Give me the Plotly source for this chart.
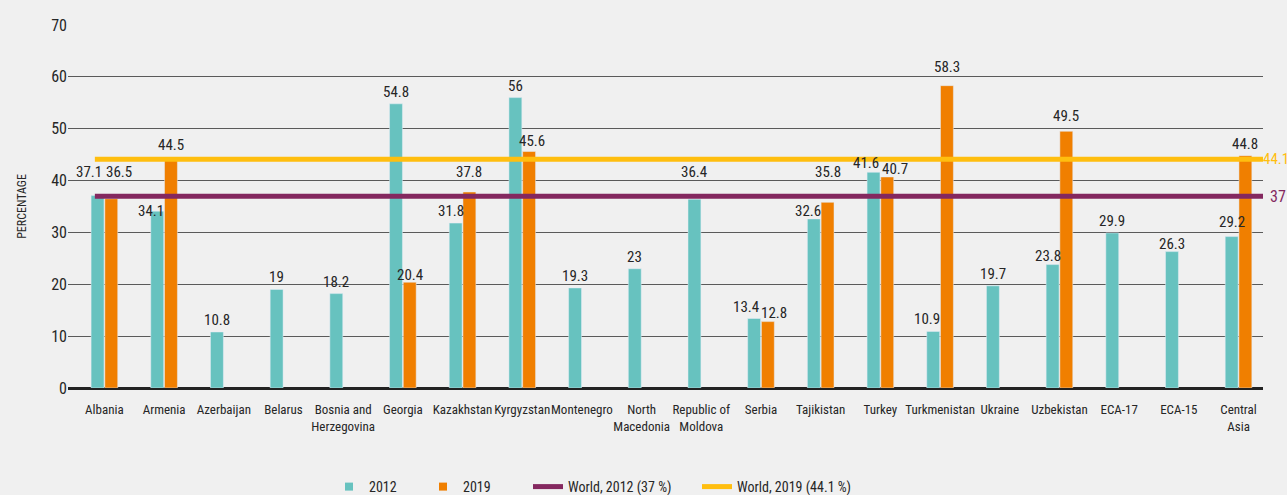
import plotly.graph_objects as go

# Dados
countries = ["Albania", "Armenia", "Azerbaijan", "Belarus", "Bosnia and<br>Herzegovina",
             "Georgia", "Kazakhstan", "Kyrgyzstan", "Montenegro", "North<br>Macedonia",
             "Republic of<br>Moldova", "Serbia", "Tajikistan", "Turkey", "Turkmenistan",
             "Ukraine", "Uzbekistan", "ECA-17", "ECA-15", "Central<br>Asia"]
v2012 = [37.1, 34.1, 10.8, 19, 18.2, 54.8, 31.8, 56, 19.3, 23,
         36.4, 13.4, 32.6, 41.6, 10.9, 19.7, 23.8, 29.9, 26.3, 29.2]
v2019 = [36.5, 44.5, None, None, None, 20.4, 37.8, 45.6, None, None,
         None, 12.8, 35.8, 40.7, 58.3, None, 49.5, None, None, 44.8]
world_2012 = 37
world_2019 = 44.1

FONT = "Roboto Condensed, Roboto, sans-serif"
TXT = "#262626"
TEAL = "#67C2BF"
ORANGE = "#F07F00"
PURPLE = "#84285F"
YELLOW = "#FFBE0F"

BARGAP = 0.54
GROUPGAP = 0.06
half = (1 - BARGAP) / 4  # distancia do centro do grupo ao centro de cada barra

# ajustes finos das etiquetas (px): {indice: (xshift, yshift)}
nudge_2012 = {0: (-9, 13), 1: (-6, -11), 6: (-5, 1), 10: (0, 16), 11: (-8, 1),
              12: (-6, -3), 13: (-8, -2), 14: (-6, 1), 16: (-5, -2), 18: (0, -3), 19: (0, 4)}
nudge_2019 = {0: (8, 16), 5: (0, -4), 6: (0, 9), 7: (3, 0), 11: (6, -2), 12: (0, 19),
              13: (8, -3), 14: (0, 8), 16: (0, 4)}

pos = list(range(len(countries)))

fig = go.Figure()

fig.add_trace(go.Bar(x=pos, y=v2012, name="2012", marker_color=TEAL, showlegend=False))
fig.add_trace(go.Bar(x=pos, y=v2019, name="2019", marker_color=ORANGE, showlegend=False))

# etiquetas de valor
for vals, sign, nudge in [(v2012, -1, nudge_2012), (v2019, 1, nudge_2019)]:
    for i, v in enumerate(vals):
        if v is None:
            continue
        xs, ys = nudge.get(i, (0, 1))
        fig.add_annotation(x=pos[i] + sign * half, y=v, text=f"{v:g}", showarrow=False,
                           yanchor="bottom", xshift=xs, yshift=ys,
                           font=dict(size=15, color=TXT, family=FONT))

# Linhas de referência mundiais
x_line = [-0.16, 19.41]
fig.add_trace(go.Scatter(
    x=x_line, y=[world_2012] * 2, mode="lines", name="World, 2012 (37 %)",
    line=dict(color=PURPLE, width=5), cliponaxis=False, legend="legend3"
))
fig.add_trace(go.Scatter(
    x=x_line, y=[world_2019] * 2, mode="lines", name="World, 2019 (44.1 %)",
    line=dict(color=YELLOW, width=5), cliponaxis=False, legend="legend4"
))

# entradas de legenda para as barras
fig.add_trace(go.Scatter(x=[None], y=[None], mode="markers", name="2012",
                         marker=dict(symbol="square", size=8, color=TEAL), legend="legend"))
fig.add_trace(go.Scatter(x=[None], y=[None], mode="markers", name="2019",
                         marker=dict(symbol="square", size=8, color=ORANGE), legend="legend2"))

fig.add_annotation(x=1, xref="paper", y=world_2012, yref="y", text=f"{world_2012:g}",
                   showarrow=False, xanchor="left", xshift=5,
                   font=dict(size=16, color=PURPLE, family=FONT))
fig.add_annotation(x=1, xref="paper", y=world_2019, yref="y", text=f"{world_2019:g}",
                   showarrow=False, xanchor="left", xshift=-2,
                   font=dict(size=15, color=YELLOW, family=FONT))

W, H = 1287, 495


def leg(text_x):
    return dict(orientation="h", xref="container", yref="container",
                x=(text_x - 42) / W, xanchor="left", y=(H - 487) / H, yanchor="middle",
                font=dict(size=14, color=TXT, family=FONT), bgcolor="rgba(0,0,0,0)")


fig.update_layout(
    width=W, height=H,
    margin=dict(l=68, r=24, t=25, b=107),
    paper_bgcolor="#F0F0F0", plot_bgcolor="#F0F0F0",
    font=dict(family=FONT, color=TXT, size=14),
    barmode="group", bargap=BARGAP, bargroupgap=GROUPGAP,
    showlegend=True,
    legend=leg(371), legend2=leg(465), legend3=leg(570), legend4=leg(739),
    xaxis=dict(
        range=[-0.61, 19.41], tickmode="array", tickvals=pos, ticktext=countries,
        showgrid=False, zeroline=False, showline=False, ticks="",
        tickfont=dict(size=13, color=TXT), tickangle=0, ticklabelstandoff=12
    ),
    yaxis=dict(
        range=[0, 70], dtick=10, showgrid=True, gridcolor="#5a5a5a", gridwidth=1.3,
        zeroline=True, zerolinecolor="#222222", zerolinewidth=2.5,
        showline=False, ticks="", tickfont=dict(size=16, color=TXT),
        title=dict(text="PERCENTAGE", font=dict(size=12, color=TXT), standoff=22)
    ),
)

fig.write_html("out.html", config={"displayModeBar": False},
               post_script="document.body.style.margin='0';")
